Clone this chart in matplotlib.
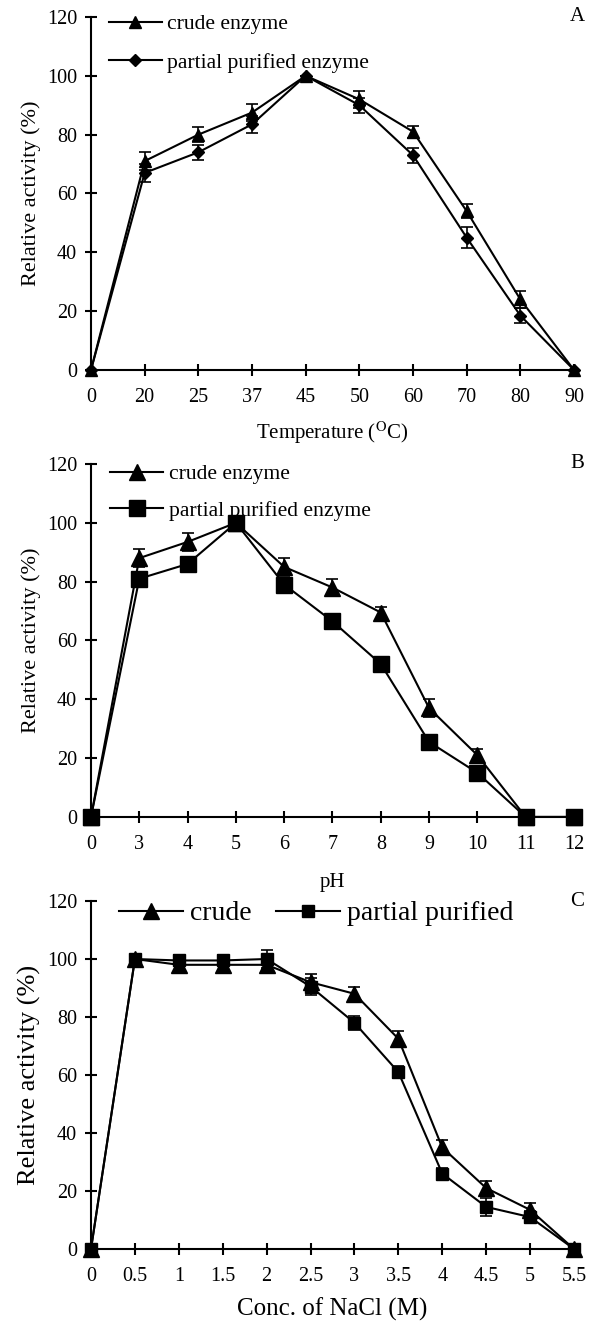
import matplotlib
matplotlib.use('Agg')
import matplotlib.pyplot as plt
from matplotlib.lines import Line2D

plt.rcParams['font.family'] = ['Liberation Serif', 'DejaVu Serif']
plt.rcParams['mathtext.fontset'] = 'stix'

# panel A - temperature
temp_labels = ['0', '20', '25', '37', '45', '50', '60', '70', '80', '90']
temp_crude = [0, 71, 80, 87.5, 100, 92, 81, 54, 24, 0]
temp_crude_err = [0, 3, 2.5, 3, 0, 3, 2, 2.5, 3, 0]
temp_partial = [0, 67, 74, 83.5, 100, 90, 73, 45, 18.5, 0]
temp_partial_err = [0, 3, 2.5, 3, 0, 2.5, 2.5, 3.5, 2.5, 0]

# panel B - pH
ph_labels = ['0', '3', '4', '5', '6', '7', '8', '9', '10', '11', '12']
ph_crude = [0, 88, 93.5, 100, 85, 78, 69.5, 37, 21, 0, 0]
ph_crude_err = [0, 3, 3, 0, 3, 3, 2, 3, 2, 0, 0]
ph_partial = [0, 81, 86, 100, 79, 66.5, 52, 25.5, 15, 0, 0]
ph_partial_err = [0, 1.5, 1.5, 0, 1.5, 1.5, 1.5, 1.5, 1.5, 0, 0]

# panel C - NaCl
nacl_labels = ['0', '0.5', '1', '1.5', '2', '2.5', '3', '3.5', '4', '4.5', '5', '5.5']
nacl_crude = [0, 100, 98, 98, 98, 92, 88, 72.5, 35, 21, 13.5, 0]
nacl_crude_err = [0, 1.5, 2, 2, 2, 3, 2.5, 2.5, 2.5, 2.5, 2.5, 0]
nacl_partial = [0, 100, 99.5, 99.5, 100, 90.5, 78, 61, 26, 14.5, 11, 0]
nacl_partial_err = [0, 1.5, 2, 2, 3, 3, 2.5, 2, 2, 3, 2, 0]


def draw_panel(ax, labels, series, letter, xlabel, ylabel_size, xlabel_size, xlabel_pad,
               leg_size, leg_ncol, leg_anchor, leg_hlen, leg_spacing):
    x = list(range(len(labels)))
    handles = []
    for vals, errs, marker, ms, name in series:
        ax.errorbar(x, vals, yerr=errs, fmt='-', marker=marker, ms=ms, color='black',
                    lw=1.5, ecolor='black', elinewidth=1.2, capsize=4, capthick=1.2,
                    clip_on=False, zorder=3)
        handles.append(Line2D([], [], color='black', lw=1.5, marker=marker, ms=ms, label=name))
    ax.set_xlim(0, len(labels) - 1)
    ax.set_ylim(0, 120)
    ax.set_yticks(range(0, 121, 20))
    ax.set_xticks(x)
    ax.set_xticklabels(labels)
    for s in ['top', 'right']:
        ax.spines[s].set_visible(False)
    for s in ['left', 'bottom']:
        ax.spines[s].set_linewidth(1.5)
    ax.tick_params(axis='both', direction='inout', length=8, width=1.5, labelsize=14.5)
    ax.tick_params(axis='x', pad=9)
    ax.tick_params(axis='y', pad=6)
    ax.set_ylabel('Relative activity (%)', fontsize=ylabel_size, labelpad=4)
    ax.set_xlabel(xlabel, fontsize=xlabel_size, labelpad=xlabel_pad)
    ax.legend(handles=handles, loc='upper left', bbox_to_anchor=leg_anchor, frameon=False,
              fontsize=leg_size, ncol=leg_ncol, handlelength=leg_hlen, handletextpad=0.25,
              borderpad=0, borderaxespad=0, labelspacing=leg_spacing, columnspacing=0.9)
    ax.text(1.006, 1.0, letter, transform=ax.transAxes, ha='center', va='center', fontsize=15)


fig = plt.figure(figsize=(5.94, 13.26), dpi=100)
ax_a = fig.add_axes([0.1532, 0.7210, 0.8131, 0.2662])
ax_b = fig.add_axes([0.1532, 0.3839, 0.8131, 0.2662])
ax_c = fig.add_axes([0.1532, 0.0581, 0.8131, 0.2624])

draw_panel(ax_a, temp_labels,
           [(temp_crude, temp_crude_err, '^', 9, 'crude enzyme'),
            (temp_partial, temp_partial_err, 'D', 6, 'partial purified enzyme')],
           'A', 'Temperature ($^{\\mathrm{O}}$C)', 16, 15, 9, 15.6, 1, (0.037, 1.008), 2.45, 0.85)
draw_panel(ax_b, ph_labels,
           [(ph_crude, ph_crude_err, '^', 11, 'crude enzyme'),
            (ph_partial, ph_partial_err, 's', 12, 'partial purified enzyme')],
           'B', 'pH', 16, 15, 14, 15.6, 1, (0.040, 1.0), 2.45, 0.75)
draw_panel(ax_c, nacl_labels,
           [(nacl_crude, nacl_crude_err, '^', 11, 'crude'),
            (nacl_partial, nacl_partial_err, 's', 8, 'partial purified')],
           'C', 'Conc. of NaCl (M)', 19, 18, 8, 20, 2, (0.058, 1.0), 2.3, 0.8)

fig.savefig('out.png', dpi=100)
